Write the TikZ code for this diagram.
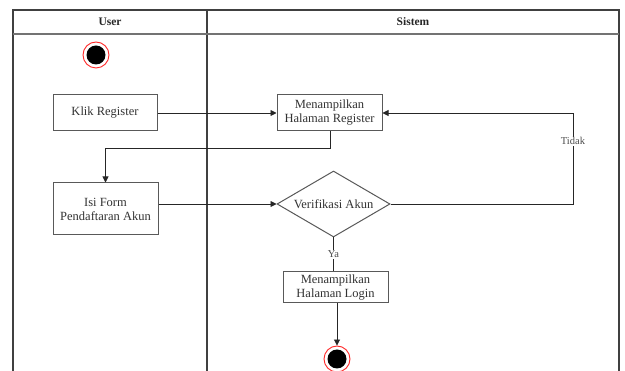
\documentclass[tikz,border=0pt]{standalone}
\usepackage{fontspec}
\setmainfont{Liberation Serif}
\usetikzlibrary{shapes.geometric,arrows.meta}
\begin{document}
\begin{tikzpicture}[x=1pt,y=-1pt,
  lane/.style={draw=black!75, line width=1.2pt},
  actbox/.style={draw=black!65, line width=1pt, fill=white, align=center, font=\fontsize{12.5}{14}\selectfont, text=black!80, inner sep=0pt},
  decis/.style={draw=black!65, line width=1pt, diamond, aspect=1.7, inner sep=0pt, fill=white, font=\fontsize{12.5}{14}\selectfont, text=black!80},
  flow/.style={draw=black!85, line width=0.9pt},
  arr/.style={flow, -{Triangle[length=6pt,width=6pt]}},
  lbl/.style={font=\fontsize{10.5}{12}\selectfont, text=black!70, fill=white, inner sep=1pt},
  hdr/.style={font=\bfseries\fontsize{11.5}{13}\selectfont, text=black!85},
  ring/.style={circle, draw=red!85, line width=0.9pt, minimum size=26pt, inner sep=0pt},
  dot/.style={circle, fill=black, minimum size=19pt, inner sep=0pt},
]
\useasboundingbox (0,0) rectangle (625,371);
% swimlanes
\draw[lane] (13,371) -- (13,10) -- (619,10) -- (619,371);
\draw[lane] (207,10) -- (207,371);
\draw[draw=black!55, line width=1.4pt] (13,34) -- (619,34);
\node[hdr] (huser) at (110,22) {User};
\node[hdr] (hsis) at (413,22) {Sistem};
% start & end
\node[ring] (start) at (96,55) {};
\node[dot] (startin) at (96,55) {};
\node[ring] (end) at (337,359) {};
\node[dot] (endin) at (337,359) {};
% nodes
\node[actbox, minimum width=104pt, minimum height=36pt] (klik) at (105,113) {Klik Register};
\node[actbox, minimum width=105pt, minimum height=36pt] (mreg) at (329.5,113) {Menampilkan\\Halaman Register};
\node[actbox, minimum width=105pt, minimum height=52pt] (isi) at (105.5,209) {Isi Form\\Pendaftaran Akun};
\node[decis, minimum width=113pt, minimum height=66pt] (ver) at (333.5,204) {Verifikasi Akun};
\node[actbox, minimum width=105pt, minimum height=31pt] (mlog) at (335.5,287.5) {Menampilkan\\Halaman Login};
\coordinate (c1) at (330,148);
\coordinate (c2) at (105.5,148);
\coordinate (c3) at (573,204);
\coordinate (c4) at (573,113);
% edges
\draw[arr] (klik) -- (mreg);
\draw[arr] (mreg.south -| c1) -- (c1) -- (c2) -- (isi.north);
\draw[arr] (isi.east |- ver.west) -- (ver.west);
\draw[arr] (ver.east) -- (c3) -- node[lbl, pos=0.69] (tidak) {Tidak} (c4) -- (mreg.east);
\draw[flow] (ver.south) -- node[lbl] (ya) {Ya} (mlog.north -| ver.south);
\draw[arr] (mlog.south -| end.north) -- (end.north);
\end{tikzpicture}
\end{document}
